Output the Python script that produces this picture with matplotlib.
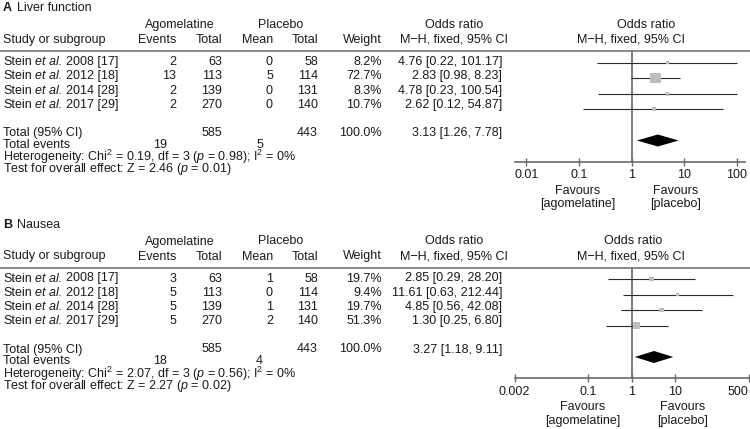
import matplotlib
matplotlib.use("Agg")
import matplotlib.pyplot as plt
from matplotlib.ticker import NullLocator
import numpy as np

plt.rcParams['font.family'] = ['Liberation Sans', 'DejaVu Sans']
plt.rcParams['mathtext.fontset'] = 'custom'
plt.rcParams['mathtext.rm'] = 'Liberation Sans'
plt.rcParams['mathtext.it'] = 'Liberation Sans:italic'
plt.rcParams['mathtext.bf'] = 'Liberation Sans:bold'

# ---------------- data ----------------
studies = ["Stein et al. 2008 [17]",
           "Stein et al. 2012 [18]",
           "Stein et al. 2014 [28]",
           "Stein et al. 2017 [29]"]

# Panel A: Liver function
a_ago_events = [2, 13, 2, 2]
a_ago_total = [63, 113, 139, 270]
a_pla_events = [0, 5, 0, 0]
a_pla_total = [58, 114, 131, 140]
a_weight = [8.2, 72.7, 8.3, 10.7]
a_or = [4.76, 2.83, 4.78, 2.62]
a_lo = [0.22, 0.98, 0.23, 0.12]
a_hi = [101.17, 8.23, 100.54, 54.87]
a_total = [3.13, 1.26, 7.78]
a_sum_total = [585, 443]
a_sum_events = [19, 5]
a_het = ["0.19", "3", "0.98", "0%"]
a_z = ["2.46", "0.01"]
a_ticks = [0.01, 0.1, 1, 10, 100]
a_ticklabels = ["0.01", "0.1", "1", "10", "100"]

# Panel B: Nausea
b_ago_events = [3, 5, 5, 5]
b_ago_total = [63, 113, 139, 270]
b_pla_events = [1, 0, 1, 2]
b_pla_total = [58, 114, 131, 140]
b_weight = [19.7, 9.4, 19.7, 51.3]
b_or = [2.85, 11.61, 4.85, 1.30]
b_lo = [0.29, 0.63, 0.56, 0.25]
b_hi = [28.20, 212.44, 42.08, 6.80]
b_total = [3.27, 1.18, 9.11]
b_sum_total = [585, 443]
b_sum_events = [18, 4]
b_het = ["2.07", "3", "0.56", "0%"]
b_z = ["2.27", "0.02"]
b_ticks = [0.002, 0.1, 1, 10, 500]
b_ticklabels = ["0.002", "0.1", "1", "10", "500"]

# ---------------- layout ----------------
W, H = 750, 429
FS = 9
TXT = '#1a1a1a'
LINE = '#6a6a6a'
SPACE_PT = 0.278 * FS

fig = plt.figure(figsize=(7.5, 4.29), dpi=100)
tax = fig.add_axes([0, 0, 1, 1])
tax.set_xlim(0, W)
tax.set_ylim(H, 0)
tax.axis('off')


def t(x, y, s, ha='left', **kw):
    return tax.text(x, y, s, ha=ha, va='center', fontsize=FS, color=TXT, **kw)


def study_label(x, y, label):
    author, rest = label.split(" et al. ")
    a1 = t(x, y, author)
    a2 = tax.annotate("et al.", xy=(1, 0), xycoords=a1, xytext=(SPACE_PT, 0),
                      textcoords='offset points', ha='left', va='bottom',
                      fontsize=FS, color=TXT, style='italic')
    tax.annotate(rest, xy=(1, 0), xycoords=a2, xytext=(SPACE_PT, 0),
                 textcoords='offset points', ha='left', va='bottom',
                 fontsize=FS, color=TXT)


def panel(dy, letter, title, ago_ev, ago_n, pla_ev, pla_n, weight, orr, lo, hi,
          tot, sum_total, sum_events, het, z, ticks, ticklabels,
          px_left, px_right, xlim, sq_k, hdr_or_x, fav_x):
    # title
    t(3, 8 + dy, letter, weight='bold')
    t(17, 8 + dy, title)
    # headers
    t(179.5, 25 + dy, "Agomelatine", ha='center')
    t(281, 25 + dy, "Placebo", ha='center')
    t(454, 25 + dy, "Odds ratio", ha='center')
    t(hdr_or_x, 25 + dy, "Odds ratio", ha='center')
    t(3, 40 + dy, "Study or subgroup")
    t(176, 40 + dy, "Events", ha='right')
    t(222, 40 + dy, "Total", ha='right')
    t(273, 40 + dy, "Mean", ha='right')
    t(318, 40 + dy, "Total", ha='right')
    t(382, 40 + dy, "Weight", ha='right')
    t(454, 40 + dy, "M\u2212H, fixed, 95% CI", ha='center')
    t(631, 40 + dy, "M\u2212H, fixed, 95% CI", ha='center')
    tax.plot([0, W], [51 + dy, 51 + dy], color=LINE, lw=1.1, solid_capstyle='butt')

    # study rows
    for i in range(len(orr)):
        y = 62 + dy + 14.3 * i
        study_label(3, y, studies[i])
        t(176, y, str(ago_ev[i]), ha='right')
        t(222, y, str(ago_n[i]), ha='right')
        t(273, y, str(pla_ev[i]), ha='right')
        t(318, y, str(pla_n[i]), ha='right')
        t(382, y, f"{weight[i]:.1f}%", ha='right')
        t(502, y, f"{orr[i]:.2f} [{lo[i]:.2f}, {hi[i]:.2f}]", ha='right')

    # totals
    t(3, 133 + dy, "Total (95% CI)")
    t(222, 133 + dy, str(sum_total[0]), ha='right')
    t(318, 133 + dy, str(sum_total[1]), ha='right')
    t(382, 133 + dy, "100.0%", ha='right')
    t(502, 133 + dy, f"{tot[0]:.2f} [{tot[1]:.2f}, {tot[2]:.2f}]", ha='right')
    t(3, 145 + dy, "Total events")
    t(167, 145 + dy, str(sum_events[0]), ha='right')
    t(263, 145 + dy, str(sum_events[1]), ha='right')
    t(3, 157 + dy, r"Heterogeneity: Chi$^{2}$ = " + het[0] + ", df = " + het[1]
      + r" ($\mathit{p}$ = " + het[2] + r"); I$^{2}$ = " + het[3])
    t(3, 169 + dy, r"Test for overall effect: Z = " + z[0] + r" ($\mathit{p}$ = " + z[1] + ")")

    # forest axes
    fdy = dy + 0.5
    top, bot = 50 + fdy, 161 + fdy
    step = 15.6
    ax = fig.add_axes([px_left / W, 1 - bot / H, (px_right - px_left) / W, (bot - top) / H])
    ax.patch.set_alpha(0)
    ax.set_xscale('log')
    ax.set_xlim(*xlim)
    ax.set_ylim((bot - (62 + fdy)) / step, (top - (62 + fdy)) / step)
    for s in ['top', 'left', 'right']:
        ax.spines[s].set_visible(False)
    ax.spines['bottom'].set_color(LINE)
    ax.spines['bottom'].set_linewidth(1.2)
    ax.set_yticks([])
    ax.set_xticks(ticks)
    ax.set_xticklabels(ticklabels)
    ax.xaxis.set_minor_locator(NullLocator())
    ax.tick_params(axis='x', direction='inout', length=6, width=1.0, color=LINE,
                   pad=2.5, labelsize=FS, labelcolor=TXT)
    # keep the last tick label inside the image
    last = ax.get_xticklabels()[-1]
    fig.canvas.draw()
    ext = last.get_window_extent()
    if ext.x1 > W - 1:
        last.set_horizontalalignment('right')
    ax.axvline(1, color='#7a7a7a', lw=1.4, zorder=1)
    rows = np.arange(len(orr))
    ax.hlines(rows, lo, hi, color='#2a2a2a', lw=0.8, zorder=2)
    sides_pt = sq_k * np.sqrt(np.array(weight)) * 0.72
    ax.scatter(orr, rows, marker='s', s=sides_pt ** 2, color='#bdbdbd',
               edgecolors='none', zorder=3)
    yd = len(orr) + 1
    h = 6.0 / step
    ax.fill([tot[1], tot[0], tot[2], tot[0]], [yd, yd - h, yd, yd + h],
            color='black', lw=0, zorder=4)
    # favours labels
    t(fav_x[0], 191 + dy, "Favours", ha='center')
    t(fav_x[0], 204.5 + dy, "[agomelatine]", ha='center')
    t(fav_x[1], 191 + dy, "Favours", ha='center')
    t(fav_x[1], 204.5 + dy, "[placebo]", ha='center')


panel(0, "A", "Liver function", a_ago_events, a_ago_total, a_pla_events, a_pla_total,
      a_weight, a_or, a_lo, a_hi, a_total, a_sum_total, a_sum_events, a_het, a_z,
      a_ticks, a_ticklabels, 515, 745, (10 ** -2.2165, 10 ** 2.152), 1.255, 646,
      (577.5, 676))
panel(216.5, "B", "Nausea", b_ago_events, b_ago_total, b_pla_events, b_pla_total,
      b_weight, b_or, b_lo, b_hi, b_total, b_sum_total, b_sum_events, b_het, b_z,
      b_ticks, b_ticklabels, 514.6, 748.8, (0.002, 500), 1.02, 633,
      (583, 683))

fig.savefig("out.png", dpi=100)
